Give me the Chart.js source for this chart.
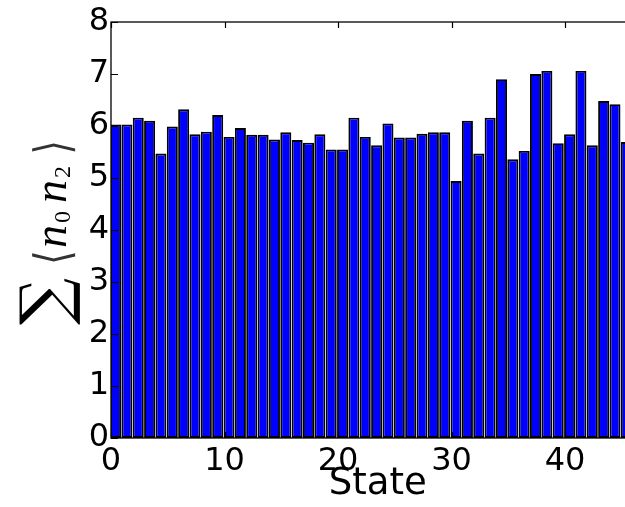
<!DOCTYPE html>
<html>
<head>
<meta charset="utf-8">
<script src="https://cdn.jsdelivr.net/npm/chart.js@4"></script>
<style>
  html, body { margin: 0; padding: 0; background: #fff; overflow: hidden; }
  #wrap { width: 625px; height: 507px; overflow: hidden; }
</style>
</head>
<body>
<div id="wrap"><canvas id="chart" width="700" height="507"></canvas></div>
<script>
// values, one bar per state
const values = [6.03, 6.03, 6.16, 6.10, 5.47, 5.99, 6.32, 5.84, 5.89, 6.21,
                5.79, 5.96, 5.83, 5.83, 5.74, 5.88, 5.73, 5.68, 5.84, 5.55,
                5.55, 6.16, 5.79, 5.63, 6.05, 5.78, 5.78, 5.85, 5.88, 5.88,
                4.94, 6.10, 5.47, 6.16, 6.90, 5.36, 5.52, 7.00, 7.06, 5.67,
                5.84, 7.06, 5.63, 6.48, 6.42, 5.69];
const states = values.map((v, i) => i);
const xTicks = [0, 10, 20, 30, 40];
const yTicks = [0, 1, 2, 3, 4, 5, 6, 7, 8];

const barWidth = 0.8; // bars sit on their left edge, like old pyplot.bar
const font = "'DejaVu Sans'";

// matplotlib-like frame: full box + ticks pointing inward
const frame = {
  id: "frame",
  afterDatasetsDraw(chart) {
    const { ctx, chartArea: a, scales: { x, y } } = chart;
    ctx.save();
    ctx.strokeStyle = "#000";
    ctx.lineWidth = 1.3;
    ctx.strokeRect(a.left, a.top, a.right - a.left, a.bottom - a.top);
    ctx.lineWidth = 1.2;
    ctx.beginPath();
    x.ticks.forEach(t => {
      const px = Math.round(x.getPixelForValue(t.value)) + 0.5;
      ctx.moveTo(px, a.top); ctx.lineTo(px, a.top + 6);
      ctx.moveTo(px, a.bottom); ctx.lineTo(px, a.bottom - 6);
    });
    y.ticks.forEach(t => {
      const py = Math.round(y.getPixelForValue(t.value)) + 0.5;
      ctx.moveTo(a.left, py); ctx.lineTo(a.left + 7, py);
      ctx.moveTo(a.right, py); ctx.lineTo(a.right - 7, py);
    });
    ctx.stroke();
    ctx.restore();
  }
};

// rotated y label: sum < n_0 n_2 >, pieces laid out along the rotated baseline
const yLabel = {
  id: "yLabel",
  afterDraw(chart) {
    const { ctx } = chart;
    ctx.save();
    ctx.translate(66, 324);
    ctx.rotate(-Math.PI / 2);
    ctx.textBaseline = "alphabetic";
    ctx.textAlign = "left";
    const put = (txt, f, u, v, color) => {
      ctx.font = f;
      ctx.fillStyle = color || "#000";
      ctx.fillText(txt, u, v);
    };
    put("\u2211", "66px 'DejaVu Serif'", -1, 1);
    ctx.save();
    ctx.scale(0.8, 1.05);
    put("\u27E8", "46px 'DejaVu Sans'", 74, 3, "#333");
    put("\u27E9", "46px 'DejaVu Sans'", 212, 3, "#333");
    ctx.restore();
    put("n", "italic 46px 'Liberation Serif'", 76, 0);
    put("0", "24px 'Liberation Serif'", 101, 4);
    put("n", "italic 46px 'Liberation Serif'", 121, 0);
    put("2", "24px 'Liberation Serif'", 146, 4);
    ctx.restore();
  }
};

new Chart(document.getElementById("chart"), {
  type: "bar",
  data: {
    datasets: [{
      data: states.map((s, i) => ({ x: s + barWidth / 2, y: values[i] })),
      backgroundColor: "#0000ff",
      borderColor: "#000000",
      borderWidth: 1.9,
      borderSkipped: false,
      categoryPercentage: 1,
      barPercentage: 0.97 // 0.8 wide bar plus its outer edge line
    }]
  },
  options: {
    responsive: false,
    animation: false,
    events: [],
    layout: { padding: { top: 22, right: 55.5, bottom: 0, left: 0 } },
    plugins: { legend: { display: false }, tooltip: { enabled: false } },
    scales: {
      x: {
        type: "linear",
        offset: false,
        bounds: "ticks",
        min: 0,
        max: 47,
        afterBuildTicks: s => { s.ticks = xTicks.map(v => ({ value: v })); },
        afterFit: s => { s.height = 69; },
        grid: { display: false, drawTicks: false, offset: false },
        border: { display: false },
        ticks: { color: "#000", padding: 4, maxRotation: 0, font: { family: font, size: 32 } },
        title: { display: true, text: "State", color: "#000", padding: 0, font: { family: font, size: 37 } }
      },
      y: {
        min: 0,
        max: 8,
        afterBuildTicks: s => { s.ticks = yTicks.map(v => ({ value: v })); },
        afterFit: s => { s.width = 111; },
        grid: { display: false, drawTicks: false },
        border: { display: false },
        ticks: { color: "#000", padding: 2, font: { family: font, size: 32 } }
      }
    }
  },
  plugins: [frame, yLabel]
});
</script>
</body>
</html>
